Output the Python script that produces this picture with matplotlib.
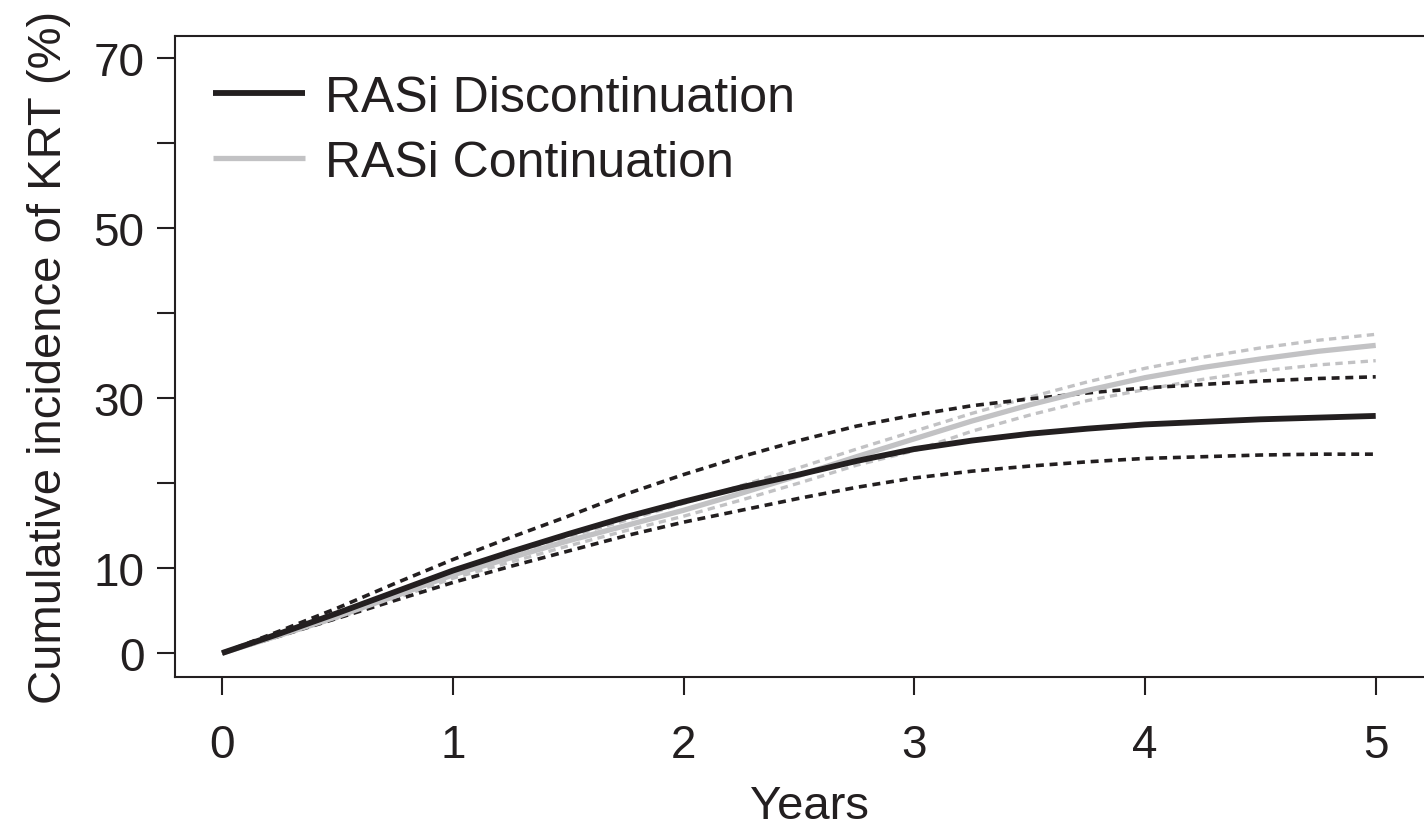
import numpy as np
import matplotlib
matplotlib.use("Agg")
import matplotlib.pyplot as plt

plt.rcParams['font.family'] = ['Liberation Sans', 'DejaVu Sans']

years = np.arange(0, 5.01, 0.25)

# cumulative incidence of KRT (%), point estimates and 95% bands
disc_est = [0, 2.3, 4.7, 7.2, 9.7, 11.9, 14.0, 16.0, 17.8, 19.5, 21.0,
            22.6, 24.0, 25.0, 25.8, 26.4, 26.9, 27.2, 27.5, 27.7, 27.9]
disc_hi = [0, 2.6, 5.3, 8.2, 11.0, 13.6, 16.1, 18.7, 21.0, 23.1, 25.0,
           26.7, 28.0, 29.1, 29.9, 30.6, 31.2, 31.6, 32.0, 32.3, 32.5]
disc_lo = [0, 2.0, 4.1, 6.2, 8.3, 10.2, 12.0, 13.8, 15.4, 16.8, 18.2,
           19.5, 20.6, 21.4, 22.0, 22.5, 22.9, 23.1, 23.3, 23.4, 23.4]

cont_est = [0, 2.1, 4.3, 6.7, 9.2, 11.2, 13.2, 15.0, 16.8, 18.8, 20.9,
            23.1, 25.2, 27.3, 29.2, 30.9, 32.4, 33.6, 34.6, 35.5, 36.2]
cont_hi = [0, 2.2, 4.5, 6.9, 9.5, 11.7, 13.7, 15.6, 17.6, 19.7, 21.8,
           24.0, 26.1, 28.2, 30.1, 31.9, 33.5, 34.8, 35.9, 36.8, 37.5]
cont_lo = [0, 2.0, 4.1, 6.4, 8.8, 10.7, 12.6, 14.4, 16.1, 18.0, 20.0,
           22.1, 23.8, 26.1, 28.0, 29.7, 31.0, 32.2, 33.2, 33.9, 34.4]

y_ticks = [0, 10, 20, 30, 40, 50, 60, 70]
y_labels = ['0', '10', '', '30', '', '50', '', '70']
x_ticks = [0, 1, 2, 3, 4, 5]

BLACK = '#231f20'
GREY = '#c2c2c4'

fig = plt.figure(figsize=(14.24, 8.29), dpi=100)
ax = fig.add_axes([0.1229, 0.1821, 0.8918, 0.7733])

dash = (2.2, 1.6)
ax.plot(years, cont_hi, color=GREY, lw=2.4, dashes=dash)
ax.plot(years, cont_lo, color=GREY, lw=2.4, dashes=dash)
ax.plot(years, disc_hi, color=BLACK, lw=2.6, dashes=dash)
ax.plot(years, disc_lo, color=BLACK, lw=2.6, dashes=dash)
ax.plot(years, cont_est, color=GREY, lw=3.8, label='RASi Continuation',
        solid_capstyle='butt')
ax.plot(years, disc_est, color=BLACK, lw=4.2, label='RASi Discontinuation',
        solid_capstyle='butt')

ax.set_xlim(-0.204, 5.30)
ax.set_ylim(-2.82, 72.6)
ax.set_xticks(x_ticks)
ax.set_yticks(y_ticks)
ax.set_yticklabels(y_labels)
ax.tick_params(axis='both', labelsize=33, length=13, width=1.5,
               color=BLACK, labelcolor=BLACK)
ax.tick_params(axis='x', pad=20)
ax.tick_params(axis='y', pad=9)
for s in ax.spines.values():
    s.set_linewidth(1.5)
    s.set_color(BLACK)

ax.set_xlabel('Years', fontsize=34, color=BLACK, labelpad=12)
ax.set_ylabel('Cumulative incidence of KRT (%)', fontsize=34, color=BLACK,
              labelpad=16)

handles, labels = ax.get_legend_handles_labels()
ax.legend(handles[::-1], labels[::-1], loc='upper left', frameon=False,
          fontsize=36, handlelength=1.84, handletextpad=0.4,
          labelspacing=0.38, borderaxespad=0,
          bbox_to_anchor=(0.014, 0.971), labelcolor=BLACK)

fig.savefig('out.png', dpi=100)
